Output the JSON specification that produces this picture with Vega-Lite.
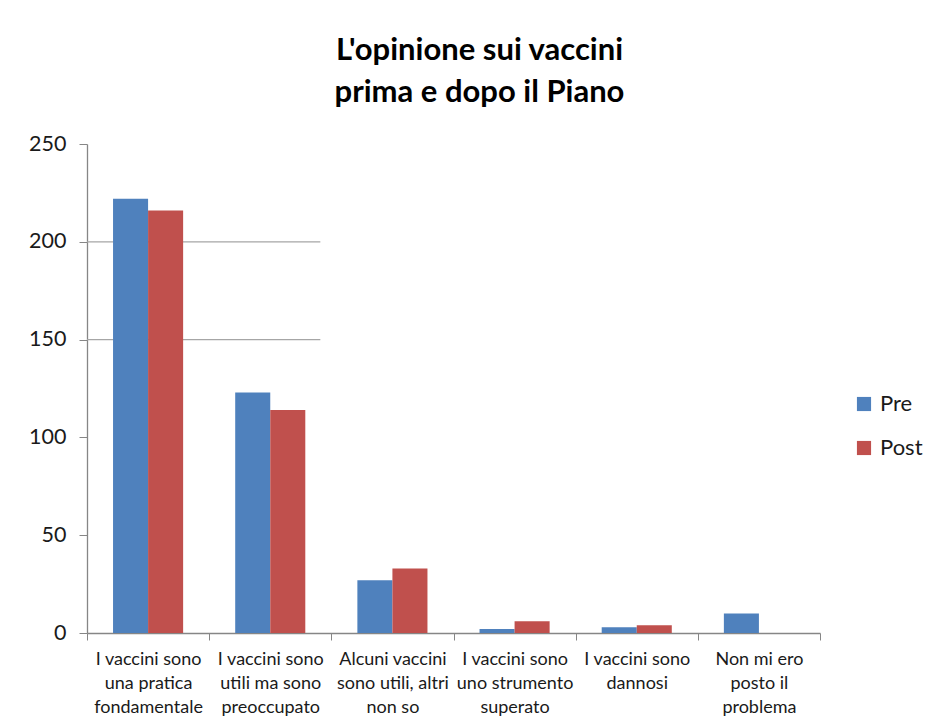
{
  "$schema": "https://vega.github.io/schema/vega-lite/v6.json",
  "width": 733,
  "height": 489,
  "autosize": "none",
  "padding": {"left": 87, "top": 144, "right": 112, "bottom": 93},
  "background": "white",
  "config": {
    "view": {"stroke": null},
    "font": "Lato"
  },
  "title": {
    "text": ["L'opinione sui vaccini", "prima e dopo il Piano"],
    "font": "Lato",
    "fontSize": 31,
    "fontWeight": "bold",
    "color": "#000000",
    "lineHeight": 42,
    "anchor": "middle",
    "dx": 26,
    "offset": 24
  },
  "datasets": {
    "bars": [
      {"cat": "I vaccini sono|una pratica|fondamentale", "serie": "Pre", "valore": 222},
      {"cat": "I vaccini sono|una pratica|fondamentale", "serie": "Post", "valore": 216},
      {"cat": "I vaccini sono|utili ma sono|preoccupato", "serie": "Pre", "valore": 123},
      {"cat": "I vaccini sono|utili ma sono|preoccupato", "serie": "Post", "valore": 114},
      {"cat": "Alcuni vaccini|sono utili, altri|non so", "serie": "Pre", "valore": 27},
      {"cat": "Alcuni vaccini|sono utili, altri|non so", "serie": "Post", "valore": 33},
      {"cat": "I vaccini sono|uno strumento|superato", "serie": "Pre", "valore": 2},
      {"cat": "I vaccini sono|uno strumento|superato", "serie": "Post", "valore": 6},
      {"cat": "I vaccini sono|dannosi", "serie": "Pre", "valore": 3},
      {"cat": "I vaccini sono|dannosi", "serie": "Post", "valore": 4},
      {"cat": "Non mi ero|posto il|problema", "serie": "Pre", "valore": 10},
      {"cat": "Non mi ero|posto il|problema", "serie": "Post", "valore": 0}
    ],
    "grid": [
      {"y": 200, "from": "I vaccini sono|una pratica|fondamentale", "to": "I vaccini sono|utili ma sono|preoccupato"},
      {"y": 150, "from": "I vaccini sono|una pratica|fondamentale", "to": "I vaccini sono|utili ma sono|preoccupato"}
    ]
  },
  "layer": [
    {
      "data": {"name": "grid"},
      "mark": {"type": "rule", "color": "#a6a6a6", "strokeWidth": 1.3},
      "encoding": {
        "x": {"field": "from", "type": "nominal", "bandPosition": 0, "sort": null},
        "x2": {"field": "to", "bandPosition": 0.91},
        "y": {"field": "y", "type": "quantitative"}
      }
    },
    {
      "data": {"name": "bars"},
      "mark": {"type": "bar"},
      "encoding": {
        "x": {
          "field": "cat",
          "type": "nominal",
          "sort": null,
          "scale": {"paddingInner": 0, "paddingOuter": 0},
          "axis": {
            "title": null,
            "labelAngle": 0,
            "labelAlign": "center",
            "labelExpr": "split(datum.label, '|')",
            "labelFont": "Lato",
            "labelFontSize": 18,
            "labelColor": "#1a1a1a",
            "labelLineHeight": 24,
            "labelPadding": 19,
            "labelLimit": 200,
            "tickBand": "extent",
            "tickSize": 7,
            "tickColor": "#868686",
            "domainColor": "#868686",
            "domainWidth": 1.3,
            "grid": false
          }
        },
        "xOffset": {
          "field": "serie",
          "type": "nominal",
          "sort": ["Pre", "Post"],
          "scale": {"paddingInner": 0, "paddingOuter": 0.743}
        },
        "y": {
          "field": "valore",
          "type": "quantitative",
          "scale": {"domain": [0, 250], "nice": false},
          "axis": {
            "title": null,
            "values": [0, 50, 100, 150, 200, 250],
            "grid": false,
            "labelFont": "Lato",
            "labelFontSize": 21.5,
            "labelColor": "#1a1a1a",
            "labelPadding": 13,
            "tickSize": 8,
            "tickColor": "#868686",
            "domainColor": "#868686",
            "domainWidth": 1.3
          }
        },
        "color": {
          "field": "serie",
          "type": "nominal",
          "sort": ["Pre", "Post"],
          "scale": {"domain": ["Pre", "Post"], "range": ["#4f81bd", "#c0504d"]},
          "legend": {
            "title": null,
            "orient": "none",
            "legendX": 766,
            "legendY": 249,
            "symbolType": "square",
            "symbolSize": 200,
            "symbolStrokeWidth": 0,
            "labelFont": "Lato",
            "labelFontSize": 22,
            "labelColor": "#1a1a1a",
            "rowPadding": 22,
            "labelOffset": 5
          }
        }
      }
    }
  ]
}
